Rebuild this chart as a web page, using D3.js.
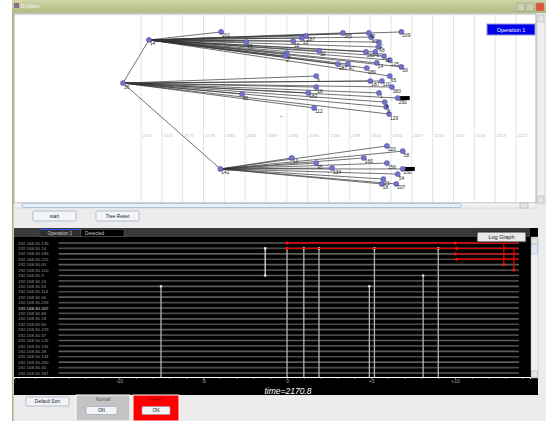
<!DOCTYPE html>
<html>
<head>
<meta charset="utf-8">
<script src="https://cdn.jsdelivr.net/npm/d3@7"></script>
<style>
body { margin: 0; background: #fff; }
svg { display: block; font-family: "Liberation Sans", Arial, sans-serif; }
</style>
</head>
<body>
<svg></svg>
<script>
const w = 546
const h = 421
const svg = d3.select("svg").attr("width", w).attr("height", h)

// top tree panel: time grid labels
const topTicks = ["2170", "2172", "2175", "2178", "2181", "2184", "2187", "2190", "2193", "2196",
    "2199", "2202", "2204", "2207", "2210", "2213", "2216", "2219", "2222"]

// tree nodes: [label, time, lane]
const rootNode = ["36", 2167.5, 35.3]
const branchNodes = [["14", 2171.1, 12.6], ["142", 2181.0, 80.5]]
const childrenOf14 = [
    ["201", 2181.1, 8.4], ["90", 2184.6, 13.7], ["12", 2191.1, 13.2], ["4", 2190.2, 19.5],
    ["2", 2190.0, 21.1], ["13", 2192.3, 11.6], ["187", 2192.9, 10.5], ["30", 2194.7, 18.4],
    ["365", 2198.0, 8.9], ["42", 2201.6, 8.9], ["209", 2206.1, 8.4], ["80", 2201.9, 11.1],
    ["2", 2203.0, 13.7], ["68", 2202.9, 16.3], ["260", 2201.2, 18.9], ["87", 2202.5, 18.9],
    ["11", 2203.7, 21.1], ["125", 2204.5, 23.2], ["39", 2206.1, 26.8], ["287", 2197.3, 25.3],
    ["47", 2198.7, 25.3], ["189", 2201.3, 27.4], ["14", 2202.7, 24.7], ["65", 2204.5, 31.6]
]
const childrenOf36 = [
    ["80", 2184.0, 41.1], ["6", 2194.3, 31.6], ["187", 2201.8, 34.2], ["110", 2203.4, 34.2],
    ["360", 2204.8, 37.4], ["18", 2194.3, 37.4], ["182", 2193.2, 40.5], ["1", 2203.0, 40.5],
    ["250", 2205.6, 43.2], ["6", 2203.8, 45.3], ["8", 2204.0, 47.9], ["112", 2194.0, 48.4],
    ["129", 2204.4, 51.6]
]
const childrenOf142 = [
    ["220", 2204.1, 68.4], ["58", 2206.3, 71.1], ["13", 2190.9, 74.7], ["160", 2200.9, 74.7],
    ["95", 2194.3, 77.4], ["156", 2204.1, 77.4], ["134", 2196.5, 80.0], ["250", 2206.3, 80.5],
    ["54", 2205.6, 83.2], ["21", 2203.6, 85.8], ["18", 2203.4, 88.4], ["207", 2205.4, 88.4]
]
const markedLabels = ["250"]

// bottom panel rows
const ipRows = ["192.168.30.139", "192.168.30.14", "192.168.30.183", "192.168.30.222", "192.168.30.65",
    "192.168.30.100", "192.168.30.3", "192.168.30.23", "192.168.30.55", "192.168.30.114",
    "192.168.30.66", "192.168.30.209", "192.168.30.207", "192.168.30.89", "192.168.30.18",
    "192.168.30.80", "192.168.30.229", "192.168.30.37", "192.168.30.125", "192.168.30.156",
    "192.168.30.28", "192.168.30.134", "192.168.30.250", "192.168.30.40", "192.168.30.167",
    "192.168.30.207"]

// normal events: time offset, first row
const eventTimes = [-7.5, 0, 1.0, 1.9, 4.9, 5.2, 8.1, 9.0]
const eventRows = [8, 1, 1, 1, 8, 1, 6, 1]
// short white event
const shortEvent = [-1.3, 1, 6]
// selected events: row, start, end
const redSpans = [[0, 0, 13.75], [1, 0, 13.75], [2, 10, 13.75], [3, 10, 13.75]]
const redDots = [[0, 0], [1, 0], [0, 10], [1, 10.1], [2, 10], [3, 10.1]]
const redDrops = [[12.9, 0, 4], [13.5, 1, 5]]
const axisLabels = [-10, -5, 0, 5, 10]
const currentTime = "2170.8"

// ---- window chrome ----
svg.append("rect").attr("x", 12).attr("y", 0).attr("width", w - 12).attr("height", h).attr("fill", "#ececec")
const grad = svg.append("defs").append("linearGradient").attr("id", "title").attr("x1", 0).attr("x2", 0).attr("y1", 0).attr("y2", 1)
grad.append("stop").attr("offset", 0).attr("stop-color", "#d0d6a8")
grad.append("stop").attr("offset", 1).attr("stop-color", "#b2ba84")
svg.append("rect").attr("x", 12).attr("y", 0).attr("width", w - 12).attr("height", 13).attr("fill", "url(#title)")
svg.append("rect").attr("x", 12).attr("y", 13).attr("width", 1.5).attr("height", h - 13).attr("fill", "#a8b28a")
svg.append("rect").attr("x", 14).attr("y", 3).attr("width", 5).attr("height", 5).attr("fill", "#8a6a8a")
svg.append("text").attr("x", 21).attr("y", 8).attr("font-size", 5.5).attr("fill", "#f4f4f4").text("Explore")
const winBtns = [[517, "#c9cfb3"], [526, "#c9cfb3"], [536, "#e0553a"]]
svg.selectAll(".wb").data(winBtns).enter().append("rect")
    .attr("x", d => d[0]).attr("y", 3).attr("width", 8).attr("height", 8).attr("rx", 1)
    .attr("fill", d => d[1]).attr("stroke", "#8e9677").attr("stroke-width", 0.5)

// ---- top tree panel ----
const topX = d3.scaleLinear().domain([2170, 2222]).range([141, 516])
const laneY = d3.scaleLinear().domain([0, 100]).range([16, 206])
const gridX = d3.scalePoint().domain(topTicks).range([141, 516])

svg.append("rect").attr("x", 14).attr("y", 14).attr("width", 522).attr("height", 189)
    .attr("fill", "#fff").attr("stroke", "#7a7a7a").attr("stroke-width", 0.6)

const grid = svg.append("g")
grid.selectAll("line").data(topTicks).enter().append("line")
    .attr("x1", d => gridX(d)).attr("x2", d => gridX(d)).attr("y1", 15).attr("y2", 203)
    .attr("stroke", "#dcdcdc").attr("stroke-width", 0.8)
grid.selectAll("text").data(topTicks).enter().append("text")
    .attr("x", d => gridX(d) + 1.5).attr("y", 137).attr("font-size", 4.3).attr("fill", "#b8b8b8").text(d => d)

// build node list
const nodes = []
const root = { label: rootNode[0], t: rootNode[1], lane: rootNode[2], parent: null }
nodes.push(root)
const b14 = { label: branchNodes[0][0], t: branchNodes[0][1], lane: branchNodes[0][2], parent: root }
const b142 = { label: branchNodes[1][0], t: branchNodes[1][1], lane: branchNodes[1][2], parent: root }
nodes.push(b14, b142)
const addChildren = (list, parent) => list.forEach(c => nodes.push({ label: c[0], t: c[1], lane: c[2], parent: parent }))
addChildren(childrenOf14, b14)
addChildren(childrenOf36, root)
addChildren(childrenOf142, b142)

const tree = svg.append("g")
tree.selectAll("line").data(nodes.filter(n => n.parent)).enter().append("line")
    .attr("x1", d => topX(d.parent.t)).attr("y1", d => laneY(d.parent.lane))
    .attr("x2", d => topX(d.t)).attr("y2", d => laneY(d.lane))
    .attr("stroke", "#333").attr("stroke-width", 0.7)
tree.selectAll("rect").data(nodes.filter(n => markedLabels.includes(n.label) && n.parent !== b14)).enter().append("rect")
    .attr("x", d => topX(d.t) + 2).attr("y", d => laneY(d.lane) - 2).attr("width", 10).attr("height", 4).attr("fill", "#000")
tree.selectAll("circle").data(nodes).enter().append("circle")
    .attr("cx", d => topX(d.t)).attr("cy", d => laneY(d.lane)).attr("r", 2.6)
    .attr("fill", "#7272c8").attr("stroke", "#4a4aa0").attr("stroke-width", 0.4)
tree.selectAll("text").data(nodes).enter().append("text")
    .attr("x", d => topX(d.t) + 1).attr("y", d => laneY(d.lane) + 5.5)
    .attr("font-size", 4.8).attr("fill", "#222").text(d => d.label)

svg.append("text").attr("x", 281).attr("y", 118).attr("font-size", 6).attr("fill", "#aaa").attr("text-anchor", "middle").text("+")

// operation label
svg.append("rect").attr("x", 487).attr("y", 24).attr("width", 48).attr("height", 11)
    .attr("fill", "#0000e8").attr("stroke", "#9a9ad8").attr("stroke-width", 1)
svg.append("text").attr("x", 511).attr("y", 32).attr("text-anchor", "middle").attr("font-size", 5.5).attr("fill", "#fff").text("Operation 1")

// scrollbars of top panel
svg.append("rect").attr("x", 537).attr("y", 14).attr("width", 8).attr("height", 190).attr("fill", "#f0f0f0").attr("stroke", "#c8c8c8").attr("stroke-width", 0.5)
svg.append("rect").attr("x", 538).attr("y", 15).attr("width", 6).attr("height", 7).attr("fill", "#e4e4e4").attr("stroke", "#999").attr("stroke-width", 0.4)
svg.append("rect").attr("x", 538).attr("y", 196).attr("width", 6).attr("height", 7).attr("fill", "#e4e4e4").attr("stroke", "#999").attr("stroke-width", 0.4)
svg.append("rect").attr("x", 14).attr("y", 203).attr("width", 522).attr("height", 5).attr("fill", "#f0f0f0").attr("stroke", "#c8c8c8").attr("stroke-width", 0.4)
svg.append("rect").attr("x", 22).attr("y", 203.5).attr("width", 439).attr("height", 4).attr("rx", 1.5)
    .attr("fill", "#eaf0f7").attr("stroke", "#7ea4cc").attr("stroke-width", 0.6)
svg.append("rect").attr("x", 520).attr("y", 203).attr("width", 8).attr("height", 5).attr("fill", "#e4e4e4").attr("stroke", "#999").attr("stroke-width", 0.4)

// buttons
const button = (x, y, bw, bh, label) => {
    svg.append("rect").attr("x", x).attr("y", y).attr("width", bw).attr("height", bh).attr("rx", 1)
        .attr("fill", "#f2f4f7").attr("stroke", "#8ea0b8").attr("stroke-width", 0.6)
    svg.append("text").attr("x", x + bw / 2).attr("y", y + bh / 2 + 1.8).attr("text-anchor", "middle")
        .attr("font-size", 4.8).attr("fill", "#222").text(label)
}
button(33, 211, 43, 10, "start")
button(96, 211, 43, 10, "Tree Reset")

// ---- bottom event panel ----
const rowY = d3.scalePoint().domain(ipRows).range([243, 373])
const bx = d3.scaleLinear().domain([-16.25, 14.46]).range([14, 530])

svg.append("rect").attr("x", 14).attr("y", 228).attr("width", 524).attr("height", 167).attr("fill", "#000")
svg.append("rect").attr("x", 14).attr("y", 228).attr("width", 516).attr("height", 9).attr("fill", "#3a3a3a")
svg.append("rect").attr("x", 40).attr("y", 229.5).attr("width", 41).attr("height", 7).attr("fill", "#2c2c2c").attr("stroke", "#666").attr("stroke-width", 0.4)
svg.append("line").attr("x1", 40).attr("x2", 81).attr("y1", 229.5).attr("y2", 229.5).attr("stroke", "#3050ff").attr("stroke-width", 1)
svg.append("text").attr("x", 60).attr("y", 235).attr("text-anchor", "middle").attr("font-size", 4.8).attr("fill", "#ccc").text("Operation 1")
svg.append("rect").attr("x", 81).attr("y", 229.5).attr("width", 43).attr("height", 7).attr("fill", "#000").attr("stroke", "#777").attr("stroke-width", 0.4)
svg.append("text").attr("x", 85).attr("y", 235).attr("font-size", 4.8).attr("fill", "#ccc").text("Detected")

const rows = svg.append("g")
rows.selectAll("line").data(ipRows).enter().append("line")
    .attr("x1", bx(-13.6)).attr("x2", bx(13.8)).attr("y1", d => rowY(d)).attr("y2", d => rowY(d))
    .attr("stroke", (d, i) => i % 2 ? "#4a4a4a" : "#5c5c5c").attr("stroke-width", 1.6)
rows.selectAll("text").data(ipRows).enter().append("text")
    .attr("x", 18).attr("y", d => rowY(d) + 1.6).attr("font-size", 4.4).attr("fill", "#9a9a9a").text(d => d)

// axis
const axisY = 377
const axis = svg.append("g").attr("transform", `translate(0, ${axisY})`)
    .call(d3.axisBottom(bx).ticks(30).tickSize(2)
        .tickFormat(d => axisLabels.includes(d) ? (d > 0 ? "+" + d : String(d)) : ""))
axis.select(".domain").attr("stroke", "#fff").attr("stroke-width", 1)
axis.selectAll(".tick line").attr("stroke", "#ddd").attr("stroke-width", 0.6)
axis.selectAll(".tick text").attr("fill", "#aaa").attr("font-size", 5).attr("y", 2.5)
svg.append("text").attr("x", 288).attr("y", 393.5).attr("text-anchor", "middle").attr("font-size", 8.5)
    .attr("font-style", "italic").attr("fill", "#fff").text("time=" + currentTime)

// normal events
const ev = svg.append("g")
ev.selectAll("line").data(eventTimes).enter().append("line")
    .attr("x1", d => bx(d)).attr("x2", d => bx(d))
    .attr("y1", (d, i) => rowY(ipRows[eventRows[i]])).attr("y2", axisY)
    .attr("stroke", "#b4b4b4").attr("stroke-width", 1.3)
ev.selectAll("circle").data(eventTimes).enter().append("circle")
    .attr("cx", d => bx(d)).attr("cy", (d, i) => rowY(ipRows[eventRows[i]])).attr("r", 1.3).attr("fill", "#ddd")
ev.append("line").attr("x1", bx(shortEvent[0])).attr("x2", bx(shortEvent[0]))
    .attr("y1", rowY(ipRows[shortEvent[1]])).attr("y2", rowY(ipRows[shortEvent[2]]))
    .attr("stroke", "#eee").attr("stroke-width", 1.2)
ev.selectAll(".se").data([shortEvent[1], shortEvent[2]]).enter().append("circle")
    .attr("cx", bx(shortEvent[0])).attr("cy", d => rowY(ipRows[d])).attr("r", 1.3).attr("fill", "#eee")

// selected events
const red = svg.append("g")
red.selectAll(".rs").data(redSpans).enter().append("line")
    .attr("x1", d => bx(d[1])).attr("x2", d => bx(d[2]))
    .attr("y1", d => rowY(ipRows[d[0]])).attr("y2", d => rowY(ipRows[d[0]]))
    .attr("stroke", "#e00000").attr("stroke-width", 1.4)
red.selectAll(".rd").data(redDrops).enter().append("line")
    .attr("x1", d => bx(d[0])).attr("x2", d => bx(d[0]))
    .attr("y1", d => rowY(ipRows[d[1]])).attr("y2", d => rowY(ipRows[d[2]]))
    .attr("stroke", "#e00000").attr("stroke-width", 1.3)
red.selectAll(".rdc").data(redDrops).enter().append("circle")
    .attr("cx", d => bx(d[0])).attr("cy", d => rowY(ipRows[d[2]])).attr("r", 1.5).attr("fill", "#ff1010")
red.selectAll(".rdot").data(redDots).enter().append("circle")
    .attr("cx", d => bx(d[1])).attr("cy", d => rowY(ipRows[d[0]])).attr("r", 1.6).attr("fill", "#ff1010")

// log graph button and scrollbar
svg.append("rect").attr("x", 477).attr("y", 232).attr("width", 49).attr("height", 10)
    .attr("fill", "#e8e8e8").attr("stroke", "#222").attr("stroke-width", 1)
svg.append("text").attr("x", 501.5).attr("y", 239).attr("text-anchor", "middle").attr("font-size", 5.5).attr("fill", "#222").text("Log Graph")
svg.append("rect").attr("x", 531).attr("y", 237).attr("width", 7).attr("height", 141).attr("fill", "#f0f0f0").attr("stroke", "#bbb").attr("stroke-width", 0.4)
svg.append("rect").attr("x", 531.5).attr("y", 238).attr("width", 6).attr("height", 6).attr("fill", "#e4e4e4").attr("stroke", "#999").attr("stroke-width", 0.4)
svg.append("rect").attr("x", 531.5).attr("y", 244).attr("width", 6).attr("height", 10).attr("fill", "#dde6f2").attr("stroke", "#8aa4c4").attr("stroke-width", 0.4)
svg.append("rect").attr("x", 531.5).attr("y", 371).attr("width", 6).attr("height", 6).attr("fill", "#e4e4e4").attr("stroke", "#999").attr("stroke-width", 0.4)

// ---- bottom controls ----
button(26, 397, 43, 9, "Default Sort")
svg.append("rect").attr("x", 76).attr("y", 395).attr("width", 54).attr("height", 26).attr("fill", "#c4c4c4").attr("stroke", "#fff").attr("stroke-width", 1)
svg.append("text").attr("x", 103).attr("y", 400.5).attr("text-anchor", "middle").attr("font-size", 4.5).attr("fill", "#555").text("Normal")
button(86, 406.5, 31, 8, "ON")
svg.append("rect").attr("x", 133).attr("y", 395).attr("width", 46).attr("height", 26).attr("fill", "#ff0000").attr("stroke", "#fff").attr("stroke-width", 1)
svg.append("text").attr("x", 156).attr("y", 400.5).attr("text-anchor", "middle").attr("font-size", 4.5).attr("fill", "#900").text("select")
button(142, 406.5, 28, 8, "ON")
</script>
</body>
</html>
